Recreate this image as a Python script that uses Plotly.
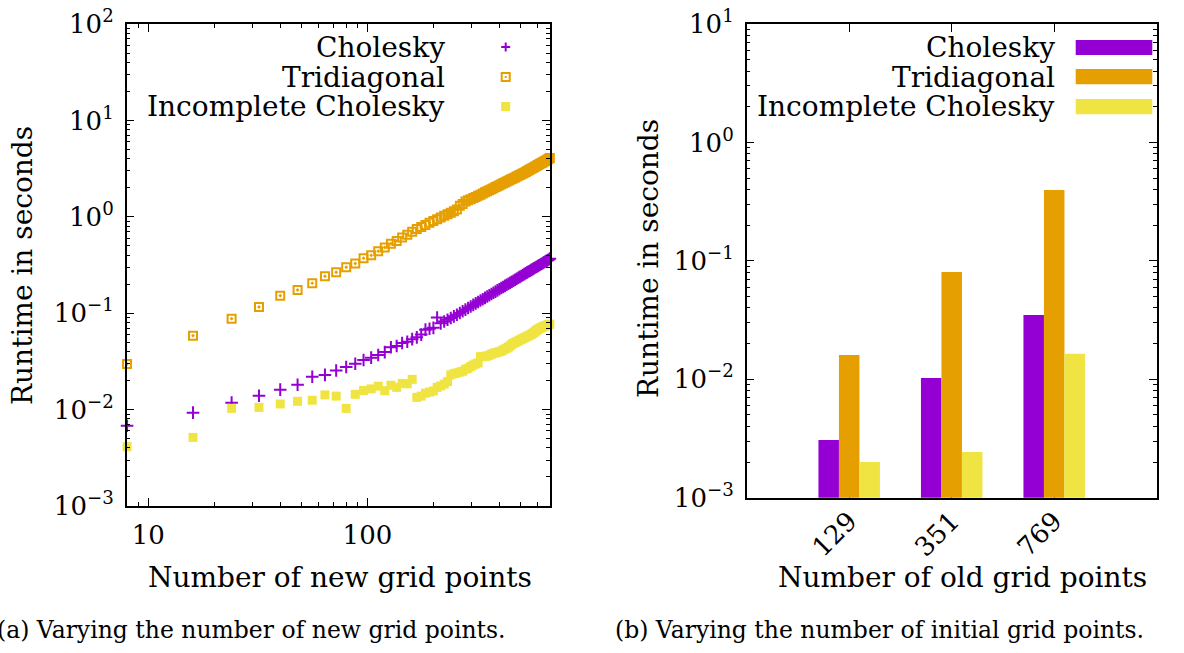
import math
import plotly.graph_objects as go

# ---------------- data ----------------
new_grid_points = [8, 16, 24, 32, 40, 48, 56, 64, 72, 80,
                   88, 96, 104, 112, 120, 128, 136, 144, 152, 160,
                   168, 176, 184, 192, 200, 208, 216, 224, 232, 240,
                   248, 256, 264, 272, 280, 288, 296, 304, 312, 320,
                   328, 336, 344, 352, 360, 368, 376, 384, 392, 400,
                   408, 416, 424, 432, 440, 448, 456, 464, 472, 480,
                   488, 496, 504, 512, 520, 528, 536, 544, 552, 560,
                   568, 576, 584, 592, 600, 608, 616, 624, 632, 640,
                   648, 656, 664, 672, 680]

cholesky_new = [0.0068, 0.0093, 0.0118, 0.0139, 0.0161, 0.0181, 0.0219, 0.0229, 0.0254, 0.0277,
                0.0299, 0.0327, 0.0346, 0.0368, 0.0395, 0.0443, 0.0457, 0.0490, 0.0506, 0.0538,
                0.0562, 0.0600, 0.0675, 0.0690, 0.0705, 0.0900, 0.0785, 0.0820, 0.0855, 0.0891,
                0.0927, 0.0963, 0.1004, 0.1046, 0.1088, 0.1133, 0.1175, 0.1219, 0.1263, 0.1306,
                0.1352, 0.1396, 0.1442, 0.1489, 0.1535, 0.1581, 0.1629, 0.1675, 0.1725, 0.1774,
                0.1824, 0.1871, 0.1920, 0.1972, 0.2023, 0.2070, 0.2123, 0.2173, 0.2223, 0.2275,
                0.2328, 0.2382, 0.2432, 0.2489, 0.2541, 0.2594, 0.2649, 0.2704, 0.2754, 0.2812,
                0.2864, 0.2924, 0.2979, 0.3034, 0.3090, 0.3148, 0.3206, 0.3258, 0.3319, 0.3381,
                0.3436, 0.3491, 0.3548, 0.3606, 0.3680]

tridiagonal_new = [0.0297, 0.0585, 0.0877, 0.116, 0.152, 0.174, 0.205, 0.242, 0.266, 0.300,
                   0.328, 0.372, 0.398, 0.440, 0.481, 0.525, 0.562, 0.611, 0.653, 0.700,
                   0.745, 0.785, 0.824, 0.865, 0.904, 0.944, 0.984, 1.023, 1.062, 1.099,
                   1.143, 1.189, 1.300, 1.360, 1.445, 1.486, 1.524, 1.563, 1.607, 1.652,
                   1.698, 1.746, 1.795, 1.841, 1.888, 1.936, 1.982, 2.032, 2.080, 2.128,
                   2.178, 2.223, 2.270, 2.323, 2.371, 2.421, 2.466, 2.518, 2.564, 2.618,
                   2.667, 2.716, 2.767, 2.812, 2.864, 2.917, 2.979, 3.034, 3.090, 3.155,
                   3.214, 3.273, 3.334, 3.388, 3.451, 3.516, 3.573, 3.622, 3.681, 3.741,
                   3.802, 3.864, 3.926, 3.990, 4.074]

incomplete_new = [0.00412, 0.00515, 0.0103, 0.01055, 0.01143, 0.0122, 0.0125, 0.0142, 0.0138, 0.0103,
                  0.0144, 0.0158, 0.0164, 0.0175, 0.0157, 0.0179, 0.0170, 0.0187, 0.0185, 0.0206,
                  0.0134, 0.0138, 0.0148, 0.0152, 0.0156, 0.0170, 0.0176, 0.0184, 0.0195, 0.0229,
                  0.0236, 0.0240, 0.0245, 0.0250, 0.0262, 0.0268, 0.0280, 0.0290, 0.0298, 0.0305,
                  0.0354, 0.0356, 0.0357, 0.0360, 0.0366, 0.0375, 0.0384, 0.0388, 0.0393, 0.0398,
                  0.0404, 0.0415, 0.0425, 0.0433, 0.0445, 0.0460, 0.0476, 0.0488, 0.0497, 0.0506,
                  0.0515, 0.0527, 0.0537, 0.0547, 0.0556, 0.0565, 0.0574, 0.0585, 0.0594, 0.0605,
                  0.0615, 0.0633, 0.0650, 0.0665, 0.0680, 0.0692, 0.0702, 0.0712, 0.0722, 0.0732,
                  0.0740, 0.0747, 0.0755, 0.0762, 0.0770]

old_grid_points = ["129", "351", "769"]
cholesky_old = [0.00307, 0.01026, 0.0349]
tridiagonal_old = [0.0160, 0.0805, 0.397]
incomplete_old = [0.0020, 0.00243, 0.01644]

series_names = ["Cholesky", "Tridiagonal", "Incomplete Cholesky"]
left_y_ticks = [1e-3, 1e-2, 1e-1, 1e0, 1e1, 1e2]
left_y_labels = ["10<sup>\u22123</sup>", "10<sup>\u22122</sup>", "10<sup>\u22121</sup>",
                 "10<sup>0</sup>", "10<sup>1</sup>", "10<sup>2</sup>"]
right_y_ticks = [1e-3, 1e-2, 1e-1, 1e0, 1e1]
right_y_labels = ["10<sup>\u22123</sup>", "10<sup>\u22122</sup>", "10<sup>\u22121</sup>",
                  "10<sup>0</sup>", "10<sup>1</sup>"]
left_x_ticks = [10, 100]
left_x_labels = ["10", "100"]

# ---------------- style ----------------
PURPLE = "#9400D3"
ORANGE = "#E69F00"
YELLOW = "#F0E442"
FONT = "DejaVu Serif"
W, H = 1184, 653


def px(x):
    return x / W


def py(y):
    return 1 - y / H


fig = go.Figure()

# left panel
fig.add_trace(go.Scatter(x=new_grid_points, y=cholesky_new, mode="markers", name=series_names[0],
                         marker=dict(symbol="cross-thin", size=9, line=dict(color=PURPLE, width=2), color=PURPLE),
                         cliponaxis=False, xaxis="x", yaxis="y"))
fig.add_trace(go.Scatter(x=new_grid_points, y=tridiagonal_new, mode="markers", name=series_names[1],
                         marker=dict(symbol="square-open-dot", size=8, line=dict(color=ORANGE, width=2), color=ORANGE),
                         cliponaxis=False, xaxis="x", yaxis="y"))
fig.add_trace(go.Scatter(x=new_grid_points, y=incomplete_new, mode="markers", name=series_names[2],
                         marker=dict(symbol="square", size=9, color=YELLOW, line=dict(width=0)),
                         cliponaxis=False, xaxis="x", yaxis="y"))

# right panel
for name, vals, col in zip(series_names, [cholesky_old, tridiagonal_old, incomplete_old], [PURPLE, ORANGE, YELLOW]):
    fig.add_trace(go.Bar(x=old_grid_points, y=vals, name=name, marker=dict(color=col, line=dict(width=0)),
                         xaxis="x2", yaxis="y2"))

axis_common = dict(showline=True, linecolor="black", linewidth=1.5, mirror="allticks",
                   ticks="inside", ticklen=8, tickwidth=1.2, tickcolor="black",
                   showgrid=False, zeroline=False, automargin=False,
                   tickfont=dict(family=FONT, size=26, color="black"))

minor_left_y = [m * 10 ** e for e in range(-3, 2) for m in range(2, 10)]
minor_left_x = [9] + [m * 10 for m in range(2, 10)] + [m * 100 for m in range(2, 7)]
minor_right_y = [m * 10 ** e for e in range(-3, 1) for m in range(2, 10)]

fig.update_layout(
    width=W, height=H, margin=dict(l=0, r=0, t=0, b=0, autoexpand=False),
    paper_bgcolor="white", plot_bgcolor="white", showlegend=False,
    barmode="group", bargap=0.4, bargroupgap=0.0,
    font=dict(family=FONT, color="black"),
    xaxis=dict(axis_common, type="log", range=[math.log10(7.97), math.log10(681)],
               domain=[px(126.7), px(550)], anchor="y",
               tickmode="array", tickvals=left_x_ticks, ticktext=left_x_labels,
               ticklabelstandoff=5,
               minor=dict(ticks="inside", ticklen=4, tickcolor="black", tickwidth=1, tickvals=minor_left_x)),
    yaxis=dict(axis_common, type="log", range=[-3, 2],
               domain=[py(506), py(24)], anchor="x",
               tickmode="array", tickvals=left_y_ticks, ticktext=left_y_labels,
               ticklabelstandoff=6,
               minor=dict(ticks="inside", ticklen=4, tickcolor="black", tickwidth=1, tickvals=minor_left_y)),
    xaxis2=dict(axis_common, type="category", range=[-1, 3],
                domain=[px(746.7), px(1156.7)], anchor="y2", tickangle=-45,
                layer="below traces", ticklabelstandoff=-4),
    yaxis2=dict(axis_common, type="log", range=[-3, 1],
                domain=[py(497.7), py(24)], anchor="x2",
                tickmode="array", tickvals=right_y_ticks, ticktext=right_y_labels,
                ticklabelstandoff=6,
                minor=dict(ticks="inside", ticklen=4, tickcolor="black", tickwidth=1, tickvals=minor_right_y)),
)

TXT = 28
ann = []
# axis titles
ann.append(dict(text="Runtime in seconds", x=px(22), y=py(266), textangle=-90, font=dict(size=TXT)))
ann.append(dict(text="Runtime in seconds", x=px(648), y=py(259), textangle=-90, font=dict(size=TXT)))
ann.append(dict(text="Number of new grid points", x=px(340), y=py(577), font=dict(size=TXT)))
ann.append(dict(text="Number of old grid points", x=px(962), y=py(577), font=dict(size=TXT)))
# captions
ann.append(dict(text="(a) Varying the number of new grid points.", x=px(251), y=py(630), font=dict(size=23.5)))
ann.append(dict(text="(b) Varying the number of initial grid points.", x=px(879), y=py(630), font=dict(size=23.5)))
# legend text
for yy, name in zip([47, 77, 106], series_names):
    ann.append(dict(text=name, x=px(447), y=py(yy), xanchor="right", font=dict(size=TXT)))
    ann.append(dict(text=name, x=px(1057), y=py(yy), xanchor="right", font=dict(size=TXT)))

for a in ann:
    a.setdefault("xref", "paper")
    a.setdefault("yref", "paper")
    a.setdefault("showarrow", False)
    a.setdefault("xanchor", "center")
    a.setdefault("yanchor", "middle")
    a["font"] = dict(family=FONT, color="black", **a["font"])
fig.update_layout(annotations=ann)

# legend symbols
shapes = []
cx = 505.7
shapes.append(dict(type="line", x0=px(cx - 4.5), x1=px(cx + 4.5), y0=py(47), y1=py(47), line=dict(color=PURPLE, width=2)))
shapes.append(dict(type="line", x0=px(cx), x1=px(cx), y0=py(42.5), y1=py(51.5), line=dict(color=PURPLE, width=2)))
shapes.append(dict(type="rect", x0=px(cx - 4), x1=px(cx + 4), y0=py(73), y1=py(81), line=dict(color=ORANGE, width=2)))
shapes.append(dict(type="rect", x0=px(cx - 1), x1=px(cx + 1), y0=py(76), y1=py(78), line=dict(width=0), fillcolor=ORANGE))
shapes.append(dict(type="rect", x0=px(cx - 4.5), x1=px(cx + 4.5), y0=py(102), y1=py(111), line=dict(width=0), fillcolor=YELLOW))
for (y0, y1), col in zip([(40, 55), (69, 84.3), (99, 114.3)], [PURPLE, ORANGE, YELLOW]):
    shapes.append(dict(type="rect", x0=px(1075.7), x1=px(1152.3), y0=py(y1), y1=py(y0), line=dict(width=0), fillcolor=col))
for s in shapes:
    s["xref"] = "paper"
    s["yref"] = "paper"
fig.update_layout(shapes=shapes)

fig.write_html("out.html")
